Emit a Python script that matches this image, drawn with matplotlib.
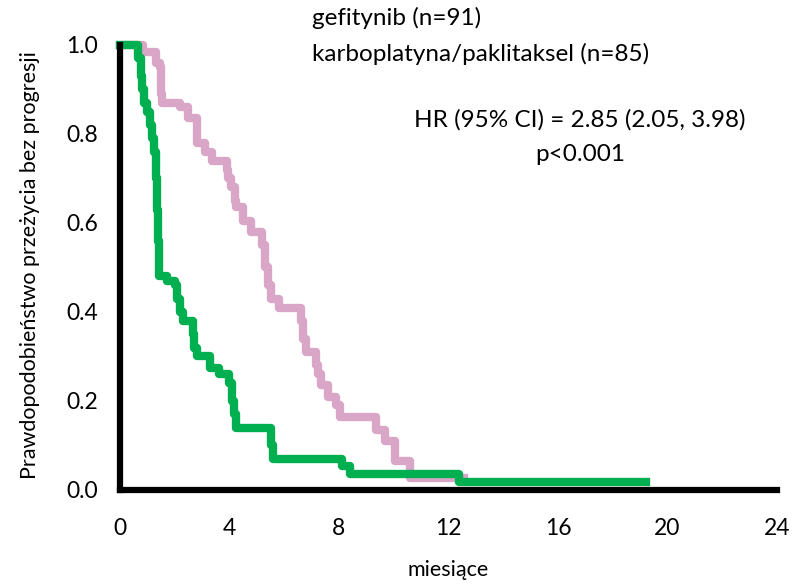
import matplotlib.pyplot as plt
import numpy as np

plt.rcParams['font.family'] = ['Lato', 'DejaVu Sans']

# Kaplan-Meier step data (months, survival after the step)
gef_t = [0, 0.65, 0.75, 0.82, 0.88, 1.0, 1.1, 1.18, 1.26, 1.32, 1.36, 1.39, 1.42,
         1.7, 2.0, 2.1, 2.2, 2.3, 2.65, 2.72, 2.8, 3.3, 3.6, 4.0, 4.1, 4.15, 4.25,
         5.5, 5.6, 8.1, 8.4, 12.4, 19.2]
gef_s = [1.0, 0.97, 0.93, 0.90, 0.87, 0.85, 0.82, 0.79, 0.76, 0.70, 0.63, 0.56, 0.48,
         0.47, 0.46, 0.43, 0.40, 0.38, 0.35, 0.32, 0.30, 0.275, 0.26, 0.24, 0.20, 0.17, 0.14,
         0.10, 0.07, 0.055, 0.036, 0.017, 0.017]

chemo_t = [0, 0.85, 1.3, 1.45, 1.48, 1.5, 1.55, 2.2, 2.5, 2.8, 2.83, 3.1, 3.35, 3.9,
           3.95, 4.05, 4.2, 4.25, 4.5, 4.8, 5.2, 5.3, 5.4, 5.5, 5.8, 6.6, 6.7, 6.8,
           7.15, 7.25, 7.36, 7.6, 7.9, 8.05, 9.35, 9.67, 10.05, 10.6, 12.57]
chemo_s = [1.0, 0.985, 0.96, 0.95, 0.92, 0.89, 0.87, 0.86, 0.835, 0.80, 0.78, 0.76, 0.74, 0.72,
           0.70, 0.68, 0.65, 0.635, 0.605, 0.58, 0.55, 0.50, 0.46, 0.43, 0.41, 0.38, 0.34, 0.31,
           0.28, 0.26, 0.235, 0.21, 0.19, 0.165, 0.135, 0.11, 0.065, 0.028, 0.028]

xticks = [0, 4, 8, 12, 16, 20, 24]
yticks = [0.0, 0.2, 0.4, 0.6, 0.8, 1.0]

fig = plt.figure(figsize=(8.07, 5.85), dpi=100)
ax = fig.add_axes([0.1487, 0.1624, 0.8141, 0.7607])

ax.step(chemo_t, chemo_s, where='post', color='#D9A6C8', lw=6, clip_on=False)
ax.step(gef_t, gef_s, where='post', color='#00B050', lw=6, clip_on=False)

ax.set_xlim(0, 24)
ax.set_ylim(0, 1.0)
ax.set_xticks(xticks)
ax.set_yticks(yticks)
ax.set_yticklabels(['%.1f' % v for v in yticks])
ax.tick_params(length=0, labelsize=16.5)
ax.tick_params(axis='x', pad=20)
ax.tick_params(axis='y', pad=16)

for s in ['top', 'right']:
    ax.spines[s].set_visible(False)
for s in ['left', 'bottom']:
    ax.spines[s].set_linewidth(4.5)
    ax.spines[s].set_color('black')
    ax.spines[s].set_capstyle('projecting')

ax.set_xlabel('miesiące', fontsize=15.5, va='center')
ax.xaxis.set_label_coords(0.5, -0.18)
ax.set_ylabel('Prawdopodobieństwo przeżycia bez progresji', fontsize=15.5, va='center')
ax.yaxis.set_label_coords(-0.137, 0.506)

txt = dict(fontsize=17.5, va='center')
fig.text(312 / 807, 1 - 18 / 585, 'gefitynib (n=91)', **txt)
fig.text(312 / 807, 1 - 54 / 585, 'karboplatyna/paklitaksel (n=85)', **txt)
fig.text(414 / 807, 1 - 120 / 585, 'HR (95% CI) = 2.85 (2.05, 3.98)', **txt)
fig.text(580 / 807, 1 - 155 / 585, 'p<0.001', ha='center', **txt)

fig.savefig('out.png', dpi=100)
